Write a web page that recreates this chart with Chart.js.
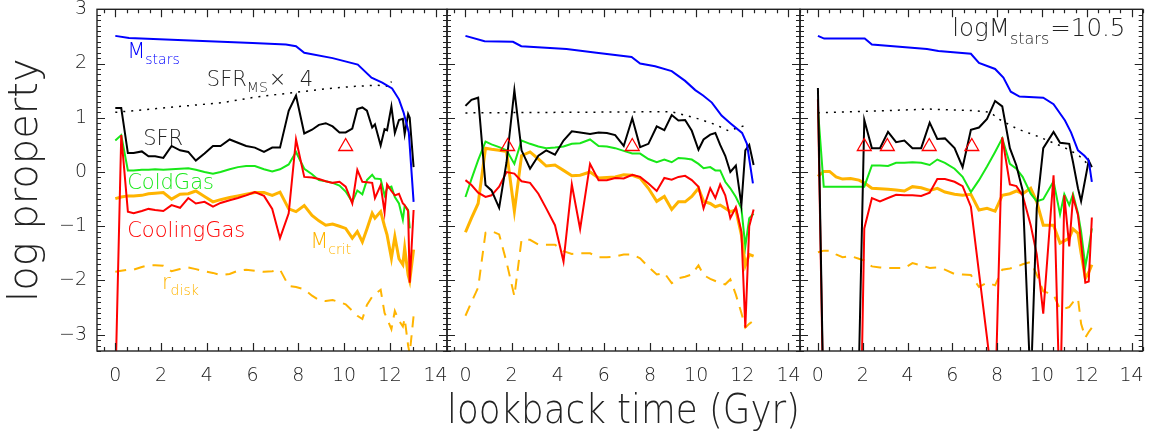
<!DOCTYPE html>
<html>
<head>
<meta charset="utf-8">
<script src="https://cdn.jsdelivr.net/npm/chart.js@4/dist/chart.umd.min.js"></script>
<style>
  html, body { margin: 0; padding: 0; background: #fff; }
  #wrap { position: relative; width: 1152px; height: 441px; }
  #wrap canvas { position: absolute; left: 0; top: 0; }
</style>
</head>
<body>
<div id="wrap">
  <canvas id="p1" width="1152" height="441"></canvas>
  <canvas id="p2" width="1152" height="441"></canvas>
  <canvas id="p3" width="1152" height="441"></canvas>
</div>
<script>
// tick labels
const xTicks = [0, 2, 4, 6, 8, 10, 12, 14];
const yTicks = [-3, -2, -1, 0, 1, 2, 3];

// ---- panel 1 ----
const t1 = [0, 0.26, 0.55, 0.8, 1.16, 1.45, 1.74, 2.1, 2.46, 2.83, 3.19, 3.52, 3.9, 4.27, 4.6, 5.0, 5.36, 5.72, 6.1, 6.5,
  6.86, 7.2, 7.58, 7.9, 8.26, 8.6, 8.9, 9.2, 9.5, 9.8, 10.07, 10.36, 10.58, 10.8, 11.0, 11.23, 11.35, 11.6, 11.77, 11.88,
  12.07, 12.22, 12.4, 12.57, 12.65, 12.8, 12.87, 13.04];
const sfr1 = [1.18, 1.18, 0.35, 0.35, 0.38, 0.29, 0.29, 0.26, 0.48, 0.40, 0.37, 0.21, 0.34, 0.48, 0.48, 0.60, 0.54, 0.48, 0.45, 0.37,
  0.45, 0.45, 1.13, 1.41, 0.71, 0.78, 0.87, 0.90, 0.84, 0.73, 0.73, 0.80, 1.16, 1.19, 1.13, 0.82, 0.88, 0.49, 0.79, 0.77,
  1.21, 0.72, 0.96, 0.98, 0.70, 1.07, 1.00, 0.09];
const cold1 = [0.58, 0.68, 0.03, 0.03, 0.04, 0.04, 0.05, 0.04, 0.05, 0.06, 0.07, 0.04, 0.0, -0.03, 0.0, 0.05, 0.09, 0.11, 0.11, 0.05,
  0.01, 0.05, 0.14, 0.37, 0.06, -0.04, -0.15, -0.17, -0.2, -0.25, -0.36, -0.55, -0.34, -0.41, -0.15, -0.05, -0.12, -0.13, -0.43, -0.3,
  -0.27, -0.46, -0.58, -0.88, -0.62, -0.7, -1.04, null];
const cool1 = [-4.0, 0.68, -0.73, -0.76, -0.72, -0.68, -0.7, -0.72, -0.61, -0.66, -0.48, -0.58, -0.55, -0.64, -0.57, -0.52, -0.48, -0.43, -0.37, -0.44,
  -0.68, -1.22, -0.76, 0.6, -0.09, -0.1, -0.13, -0.17, -0.2, -0.18, -0.27, -0.58, 0.04, -0.18, -0.19, -0.2, -0.48, -0.24, -0.74, -0.23,
  -0.35, -0.43, -0.4, -0.58, -0.61, -0.72, -2.04, -0.7];
const mcrit1 = [-0.49, -0.46, -0.44, -0.44, -0.43, -0.4, -0.39, -0.38, -0.5, -0.41, -0.4, -0.35, -0.45, -0.55, -0.51, -0.47, -0.44, -0.41, -0.38, -0.38,
  -0.43, -0.37, -0.68, -0.73, -0.62, -0.8, -0.9, -0.98, -0.96, -1.0, -1.04, -1.22, -1.1, -1.29, -1.05, -0.76, -0.85, -0.73, -1.0, -1.16,
  -1.59, -1.19, -1.6, -1.71, -1.4, -1.9, -2.01, -1.43];
const rdisk1 = [-1.84, -1.82, -1.8, -1.8, -1.75, -1.72, -1.72, -1.73, -1.83, -1.79, -1.76, -1.79, -1.83, -1.86, -1.9, -1.88, -1.82, -1.8, -1.82, -1.84,
  -1.83, -1.8, -2.1, -2.12, -2.16, -2.28, -2.36, -2.38, -2.36, -2.4, -2.44, -2.56, -2.65, -2.71, -2.45, -2.3, -2.25, -2.17, -2.6, -2.7,
  -2.9, -2.56, -2.74, -2.85, -2.7, -3.2, -3.35, -2.65];
const mstarsT1 = [0, 0.6, 3, 6, 7.46, 7.9, 8.26, 9.5, 10.6, 11.2, 11.67, 12.1, 12.4, 12.6, 12.83, 13.04];
const mstars1 = [2.51, 2.47, 2.43, 2.38, 2.35, 2.32, 2.2, 2.1, 1.98, 1.74, 1.65, 1.54, 1.34, 1.1, 0.73, -0.55];
const sfrmsT1 = [0, 1.8, 4.7, 6.1, 7.9, 9.35, 10.5, 11.4, 12.0, 12.07];
const sfrms1 = [1.1, 1.17, 1.28, 1.38, 1.47, 1.54, 1.58, 1.6, 1.58, 1.67];
const triT1 = [10.07];
const triV1 = [0.47];

// ---- panel 2 ----
const t2 = [0, 0.26, 0.55, 0.87, 1.13, 1.46, 1.78, 2.12, 2.43, 2.8, 3.16, 3.5, 3.88, 4.25, 4.61, 4.97, 5.4, 5.77, 6.13, 6.49,
  6.86, 7.23, 7.57, 7.93, 8.29, 8.62, 8.94, 9.23, 9.52, 9.81, 10.1, 10.32, 10.61, 10.83, 11.04, 11.26, 11.48, 11.72, 11.96, 12.13,
  12.3, 12.49];
const sfr2 = [1.22, 1.33, 1.37, -0.24, -0.34, -0.66, 0.18, 1.51, 0.4, 0.06, 0.3, 0.4, 0.32, 0.58, 0.75, 0.73, 0.7, 0.73, 0.72, 0.68,
  0.48, 0.99, 0.46, 0.52, 0.84, 0.77, 1.05, 0.95, 0.96, 0.76, 0.41, 0.6, 0.69, 0.72, 0.5, 0.3, 0.0, 0.12, -0.61, 0.4,
  0.5, 0.13];
const cold2 = [-0.46, -0.13, 0.22, 0.56, 0.51, 0.46, 0.4, 0.15, 0.58, 0.52, 0.47, 0.44, 0.45, 0.47, 0.52, 0.53, 0.6, 0.48, 0.47, 0.44,
  0.39, 0.34, 0.34, 0.24, 0.18, 0.23, 0.18, 0.26, 0.25, 0.23, 0.15, 0.07, 0.09, 0.03, 0.03, -0.18, -0.3, -0.46, -0.67, -1.37,
  -0.85, -0.77];
const cool2 = [-0.15, -0.24, -0.38, -0.46, -0.43, -0.27, 0.0, -0.03, -0.17, -0.2, -0.4, -0.67, -0.98, -1.65, -0.23, -1.05, 0.15, -0.15, -0.15, -0.11,
  -0.12, -0.05, -0.09, -0.21, -0.35, -0.11, -0.14, -0.09, -0.07, -0.15, -0.27, -0.67, -0.3, -0.48, -0.23, -0.43, -0.85, -0.65, -1.1, -2.87,
  -1.0, -0.69];
const mcrit2 = [-1.11, -0.85, -0.58, 0.44, 0.42, 0.4, 0.38, -0.72, 0.3, 0.37, 0.24, 0.11, 0.13, 0.03, -0.07, -0.06, 0.0, -0.11, -0.1, -0.09,
  -0.05, -0.06, -0.11, -0.3, -0.54, -0.45, -0.69, -0.55, -0.55, -0.45, -0.3, -0.54, -0.58, -0.64, -0.61, -0.67, -0.73, -0.7, -1.16, -1.72,
  -1.52, -1.55];
const rdisk2 = [-2.65, -2.4, -2.13, -1.12, -1.09, -1.15, -1.66, -2.29, -1.25, -1.25, -1.34, -1.34, -1.34, -1.46, -1.51, -1.5, -1.5, -1.57, -1.57, -1.56,
  -1.52, -1.52, -1.59, -1.75, -1.89, -1.86, -2.05, -1.96, -1.93, -1.89, -1.72, -1.9, -1.97, -2.01, -2.05, -2.07, -1.98, -2.26, -2.6, -2.87,
  -2.8, -2.74];
const mstarsT2 = [0, 0.83, 2.06, 2.42, 4.38, 5.68, 7.2, 7.57, 8.22, 8.94, 9.52, 9.96, 10.3, 10.68, 11.1, 11.48, 11.99, 12.2, 12.46];
const mstars2 = [2.51, 2.41, 2.4, 2.32, 2.27, 2.2, 2.12, 2.0, 1.95, 1.86, 1.68, 1.51, 1.41, 1.28, 1.04, 0.9, 0.72, 0.52, -0.21];
const sfrmsT2 = [0, 4, 8, 8.94, 10.1, 10.8, 11.4, 12.06];
const sfrms2 = [1.09, 1.1, 1.11, 1.11, 0.98, 0.88, 0.76, 0.85];
const triT2 = [1.83, 7.23];
const triV2 = [0.47, 0.47];

// ---- panel 3 ----
const t3 = [0, 0.26, 0.52, 0.81, 1.1, 1.46, 1.83, 2.07, 2.41, 2.77, 3.13, 3.49, 3.86, 4.22, 4.61, 4.99, 5.33, 5.67, 6.1, 6.46,
  6.83, 7.19, 7.55, 7.91, 8.23, 8.57, 8.86, 9.14, 9.5, 9.77, 10.06, 10.52, 10.81, 11.0, 11.22, 11.39, 11.61, 11.75, 11.94, 12.09,
  12.23];
const sfr3 = [1.55, -4.5, -5, -5, -5, -5, -3.6, 0.96, 0.44, 0.44, 0.74, 0.55, 0.58, 0.44, 0.44, 0.91, 0.61, 0.62, 0.44, 0.09,
  0.78, 0.82, 0.98, 1.31, 1.21, 0.44, 0.12, -0.34, -4.0, -0.67, 0.44, 0.74, 0.54, 0.53, 0.52, 0.18, -0.3, -0.54, -0.12, 0.21,
  0.09];
const cold3 = [1.16, -0.27, -0.27, -0.27, -0.27, -0.27, -0.27, -0.27, 0.12, 0.12, 0.11, 0.17, 0.17, 0.18, 0.17, 0.13, 0.23, 0.17, 0.06, -0.09,
  -0.37, -0.15, 0.1, 0.37, 0.62, 0.15, 0.06, -0.09, -0.4, -0.54, -0.5, -0.17, -0.78, -0.41, -0.61, -0.41, -0.76, -1.1, -1.74, -1.4,
  -1.04];
const cool3 = [1.34, -4.7, -6, -6, -6, -6, -6.5, -1.04, -0.48, -0.54, -0.48, -0.42, -0.43, -0.43, -0.44, -0.38, -0.13, -0.13, -0.18, -0.26,
  -0.64, -1.85, -3.06, -4.3, 0.64, -0.23, -0.26, -0.43, -0.98, -1.52, -2.61, -0.06, -4.5, -0.43, -1.37, -0.46, -0.79, -1.3, -2.04, -2.02,
  -0.84];
const mcrit3 = [-0.08, 0.01, 0.01, -0.09, -0.13, -0.12, -0.15, -0.2, -0.3, -0.31, -0.32, -0.33, -0.35, -0.27, -0.29, -0.34, -0.3, -0.37, -0.41, -0.43,
  -0.41, -0.7, -0.67, -0.72, -0.43, -0.4, -0.35, -0.4, -0.3, -0.55, -0.98, -0.98, -1.31, -1.27, -1.22, -1.05, -1.13, -1.5, -1.96, -1.85,
  -1.71];
const rdisk3 = [-1.48, -1.45, -1.45, -1.52, -1.57, -1.55, -1.6, -1.63, -1.74, -1.76, -1.77, -1.77, -1.77, -1.68, -1.72, -1.77, -1.76, -1.8, -1.88, -1.89,
  -1.9, -2.12, -2.04, -2.09, -1.8, -1.78, -1.75, -1.7, -1.66, -1.89, -2.2, -2.26, -2.53, -2.52, -2.49, -2.4, -2.33, -2.8, -3.05, -2.95,
  -2.87];
const mstarsT3 = [0, 0.28, 2.09, 2.41, 4.87, 5.38, 6.83, 7.19, 7.91, 8.28, 8.61, 9.0, 10.06, 10.52, 11.03, 11.3, 11.61, 11.9, 12.09, 12.23];
const mstars3 = [2.51, 2.46, 2.46, 2.35, 2.27, 2.23, 2.18, 2.01, 1.9, 1.74, 1.48, 1.39, 1.37, 1.25, 0.95, 0.73, 0.4, 0.3, 0.21, -0.18];
const sfrmsT3 = [0, 2.84, 5.0, 7.04, 7.7, 8.06, 8.93, 9.8, 10.96, 11.61, 12.19];
const sfrms3 = [1.09, 1.13, 1.16, 1.13, 1.1, 0.98, 0.79, 0.66, 0.46, 0.32, 0.09];
const triT3 = [2.07, 3.1, 4.97, 6.87];
const triV3 = [0.47, 0.47, 0.47, 0.47];

const BLUE = '#0000ff', GREEN = '#18e818', RED = '#ff0000', ORANGE = '#ffb400', BLACK = '#000000', INK = '#222222';
const FONT = '"DejaVu Sans"';
const WEIGHT = '200';

const pts = (t, v) => t.map((x, i) => ({ x: x, y: v[i] }));

function lineSet(data, color, width, dash) {
  return {
    data: data, borderColor: color, borderWidth: width, borderDash: dash || [],
    pointRadius: 0, tension: 0, fill: false, spanGaps: false
  };
}

// text with subscripts, positioned in data coordinates
function drawParts(ctx, px, py, color, parts, size) {
  ctx.fillStyle = color;
  ctx.textBaseline = 'alphabetic';
  ctx.textAlign = 'left';
  let cx = px;
  for (const p of parts) {
    const sub = p[1] === 1;
    ctx.font = WEIGHT + ' ' + (sub ? Math.round(size * 0.66) : size) + 'px ' + FONT;
    ctx.fillText(p[0], cx, sub ? py + size * 0.3 : py);
    cx += ctx.measureText(p[0]).width + (sub ? 1 : 0);
  }
}

const labelPlugin = {
  id: 'labels',
  afterDatasetsDraw(chart, args, opts) {
    const { ctx, scales: { x, y } } = chart;
    ctx.save();
    for (const l of opts.items || []) {
      drawParts(ctx, x.getPixelForValue(l.x), y.getPixelForValue(l.y), l.color, l.parts, l.size || 21);
    }
    ctx.restore();
  }
};

// IDL-style frame with inward ticks on all sides
const framePlugin = {
  id: 'frame',
  afterDatasetsDraw(chart) {
    const { ctx, chartArea: a, scales: { x, y } } = chart;
    ctx.save();
    ctx.strokeStyle = INK;
    ctx.lineWidth = 1.4;
    ctx.strokeRect(a.left, a.top, a.right - a.left, a.bottom - a.top);
    ctx.lineWidth = 1.2;
    ctx.beginPath();
    for (let k = -4; k <= 32; k++) {
      const v = k * 0.5;
      if (v < x.min || v > x.max) continue;
      const px = Math.round(x.getPixelForValue(v)) + 0.5;
      const len = k % 4 === 0 ? 8 : 4;
      ctx.moveTo(px, a.bottom); ctx.lineTo(px, a.bottom - len);
      ctx.moveTo(px, a.top); ctx.lineTo(px, a.top + len);
    }
    for (let k = -40; k <= 40; k++) {
      const v = k / 10;
      if (v < y.min || v > y.max) continue;
      const py = Math.round(y.getPixelForValue(v)) + 0.5;
      const len = k % 10 === 0 ? 8 : 4;
      ctx.moveTo(a.left, py); ctx.lineTo(a.left + len, py);
      ctx.moveTo(a.right, py); ctx.lineTo(a.right - len, py);
    }
    ctx.stroke();
    ctx.restore();
  }
};

function makePanel(id, opt) {
  const datasets = [
    { data: pts(opt.triT, opt.triV), showLine: false, pointStyle: 'triangle', pointRadius: 8,
      borderColor: RED, backgroundColor: 'rgba(0,0,0,0)', borderWidth: 1.3 },
    lineSet(pts(opt.mstarsT, opt.mstars), BLUE, 2),
    lineSet(pts(opt.t, opt.sfr), BLACK, 2),
    lineSet(pts(opt.t, opt.cool), RED, 2),
    lineSet(pts(opt.t, opt.cold), GREEN, 2),
    lineSet(pts(opt.t, opt.mcrit), ORANGE, 3),
    lineSet(pts(opt.t, opt.rdisk), ORANGE, 2, [11, 8]),
    lineSet(pts(opt.sfrmsT, opt.sfrms), BLACK, 1.5, [2, 6])
  ];
  return new Chart(document.getElementById(id), {
    type: 'line',
    data: { datasets: datasets },
    plugins: [framePlugin, labelPlugin],
    options: {
      responsive: false,
      animation: false,
      events: [],
      layout: { padding: { left: opt.padL, right: opt.padR, top: 5, bottom: 0 } },
      plugins: {
        legend: { display: false },
        tooltip: { enabled: false },
        labels: { items: opt.labels }
      },
      scales: {
        x: {
          type: 'linear', min: -0.8, max: 14.5,
          grid: { display: false, drawTicks: false },
          border: { display: false },
          afterBuildTicks: (s) => { s.ticks = xTicks.map(v => ({ value: v })); },
          afterFit: (s) => { s.height = 90; s.paddingLeft = 0; s.paddingRight = 0; },
          ticks: { color: INK, padding: 14, font: { family: FONT, size: 19, weight: WEIGHT } },
          title: {
            display: !!opt.xTitle, text: opt.xTitle || '', color: INK,
            font: { family: FONT, size: 41, weight: WEIGHT }, padding: { top: 0, bottom: 4 }
          }
        },
        y: {
          type: 'linear', min: -3.3, max: 3,
          display: opt.showY,
          grid: { display: false, drawTicks: false },
          border: { display: false },
          afterBuildTicks: (s) => { s.ticks = yTicks.map(v => ({ value: v })); },
          afterFit: (s) => { s.width = opt.showY ? 97 : 0; s.paddingTop = 0; s.paddingBottom = 0; },
          ticks: {
            color: INK, padding: 10, font: { family: FONT, size: 19, weight: WEIGHT },
            callback: (v) => (v < 0 ? '\u2212' + Math.abs(v) : String(v))
          },
          title: {
            display: opt.showY, text: 'log property', color: INK,
            font: { family: FONT, size: 40, weight: WEIGHT }, padding: { top: 3, bottom: 0 }
          }
        }
      }
    }
  });
}

makePanel('p1', {
  padL: 0, padR: 1152 - 447, showY: true,
  t: t1, sfr: sfr1, cold: cold1, cool: cool1, mcrit: mcrit1, rdisk: rdisk1,
  mstarsT: mstarsT1, mstars: mstars1, sfrmsT: sfrmsT1, sfrms: sfrms1, triT: triT1, triV: triV1,
  labels: [
    { x: 0.52, y: 2.1, color: BLUE, parts: [['M'], ['stars', 1]] },
    { x: 4.0, y: 1.59, color: INK, parts: [['SFR'], ['MS', 1], ['\u00d7  4']] },
    { x: 1.22, y: 0.5, color: INK, parts: [['SFR']] },
    { x: 0.52, y: -0.31, color: GREEN, parts: [['ColdGas']] },
    { x: 0.52, y: -1.19, color: RED, parts: [['CoolingGas']] },
    { x: 8.52, y: -1.4, color: ORANGE, parts: [['M'], ['crit', 1]] },
    { x: 2.04, y: -2.16, color: ORANGE, parts: [['r'], ['disk', 1]] }
  ]
});

makePanel('p2', {
  padL: 447, padR: 1152 - 800, showY: false, xTitle: 'lookback time (Gyr)',
  t: t2, sfr: sfr2, cold: cold2, cool: cool2, mcrit: mcrit2, rdisk: rdisk2,
  mstarsT: mstarsT2, mstars: mstars2, sfrmsT: sfrmsT2, sfrms: sfrms2, triT: triT2, triV: triV2,
  labels: []
});

makePanel('p3', {
  padL: 800, padR: 1, showY: false,
  t: t3, sfr: sfr3, cold: cold3, cool: cool3, mcrit: mcrit3, rdisk: rdisk3,
  mstarsT: mstarsT3, mstars: mstars3, sfrmsT: sfrmsT3, sfrms: sfrms3, triT: triT3, triV: triV3,
  labels: [
    { x: 6.0, y: 2.5, color: INK, size: 24.5, parts: [['logM'], ['stars', 1], ['=10.5']] }
  ]
});
</script>
</body>
</html>
